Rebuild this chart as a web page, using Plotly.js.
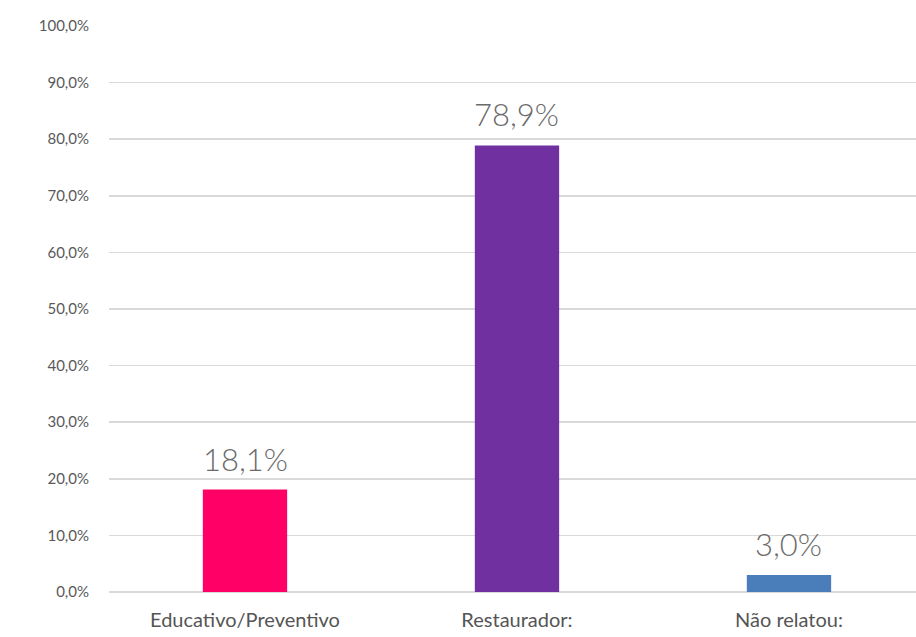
<!DOCTYPE html>
<html>
<head>
<meta charset="utf-8">
<script src="https://cdn.plot.ly/plotly-3.0.1.min.js"></script>
<style>html,body{margin:0;padding:0;background:#fff}#chart{width:916px;height:637px}</style>
</head>
<body>
<div id="chart"></div>
<script>
const categories = ["Educativo/Preventivo", "Restaurador:", "Não relatou:"];
const values = [18.1, 78.9, 3.0];
const colors = ["#FF0066", "#7030A0", "#4A7EBB"];
const yTicks = [0, 10, 20, 30, 40, 50, 60, 70, 80, 90, 100];
const fmt = v => v.toFixed(1).replace(".", ",") + "%";

const trace = {
  type: "bar",
  x: categories,
  y: values,
  marker: {color: colors},
  width: 0.31,
  hoverinfo: "none"
};

const annotations = categories.map((c, i) => ({
  x: c, y: values[i], xref: "x", yref: "y",
  text: fmt(values[i]), showarrow: false,
  yanchor: "bottom", yshift: 10,
  font: {family: "Lato, 'DejaVu Sans', sans-serif", size: 31, color: "#6b6b6b", weight: 300}
}));

const layout = {
  width: 916, height: 637,
  margin: {l: 109, r: 0, t: 26, b: 45},
  paper_bgcolor: "#fff", plot_bgcolor: "#fff",
  separators: ",.",
  showlegend: false,
  annotations: annotations,
  xaxis: {
    range: [-0.5, 2.467],
    showgrid: false, zeroline: false, showline: false,
    ticks: "", ticklabelstandoff: 14,
    tickfont: {family: "Lato, 'DejaVu Sans', sans-serif", size: 20, color: "#555555"}
  },
  yaxis: {
    range: [0, 100],
    tickvals: yTicks,
    ticktext: yTicks.map(fmt),
    showgrid: true, gridcolor: "#d9d9d9", gridwidth: 1.5,
    zeroline: true, zerolinecolor: "#d9d9d9", zerolinewidth: 1.5,
    showline: false, ticks: "", ticklabelstandoff: 19,
    tickfont: {family: "Lato, 'DejaVu Sans', sans-serif", size: 15, color: "#595959"}
  }
};

Plotly.newPlot("chart", [trace], layout, {displayModeBar: false, staticPlot: true});
</script>
</body>
</html>
